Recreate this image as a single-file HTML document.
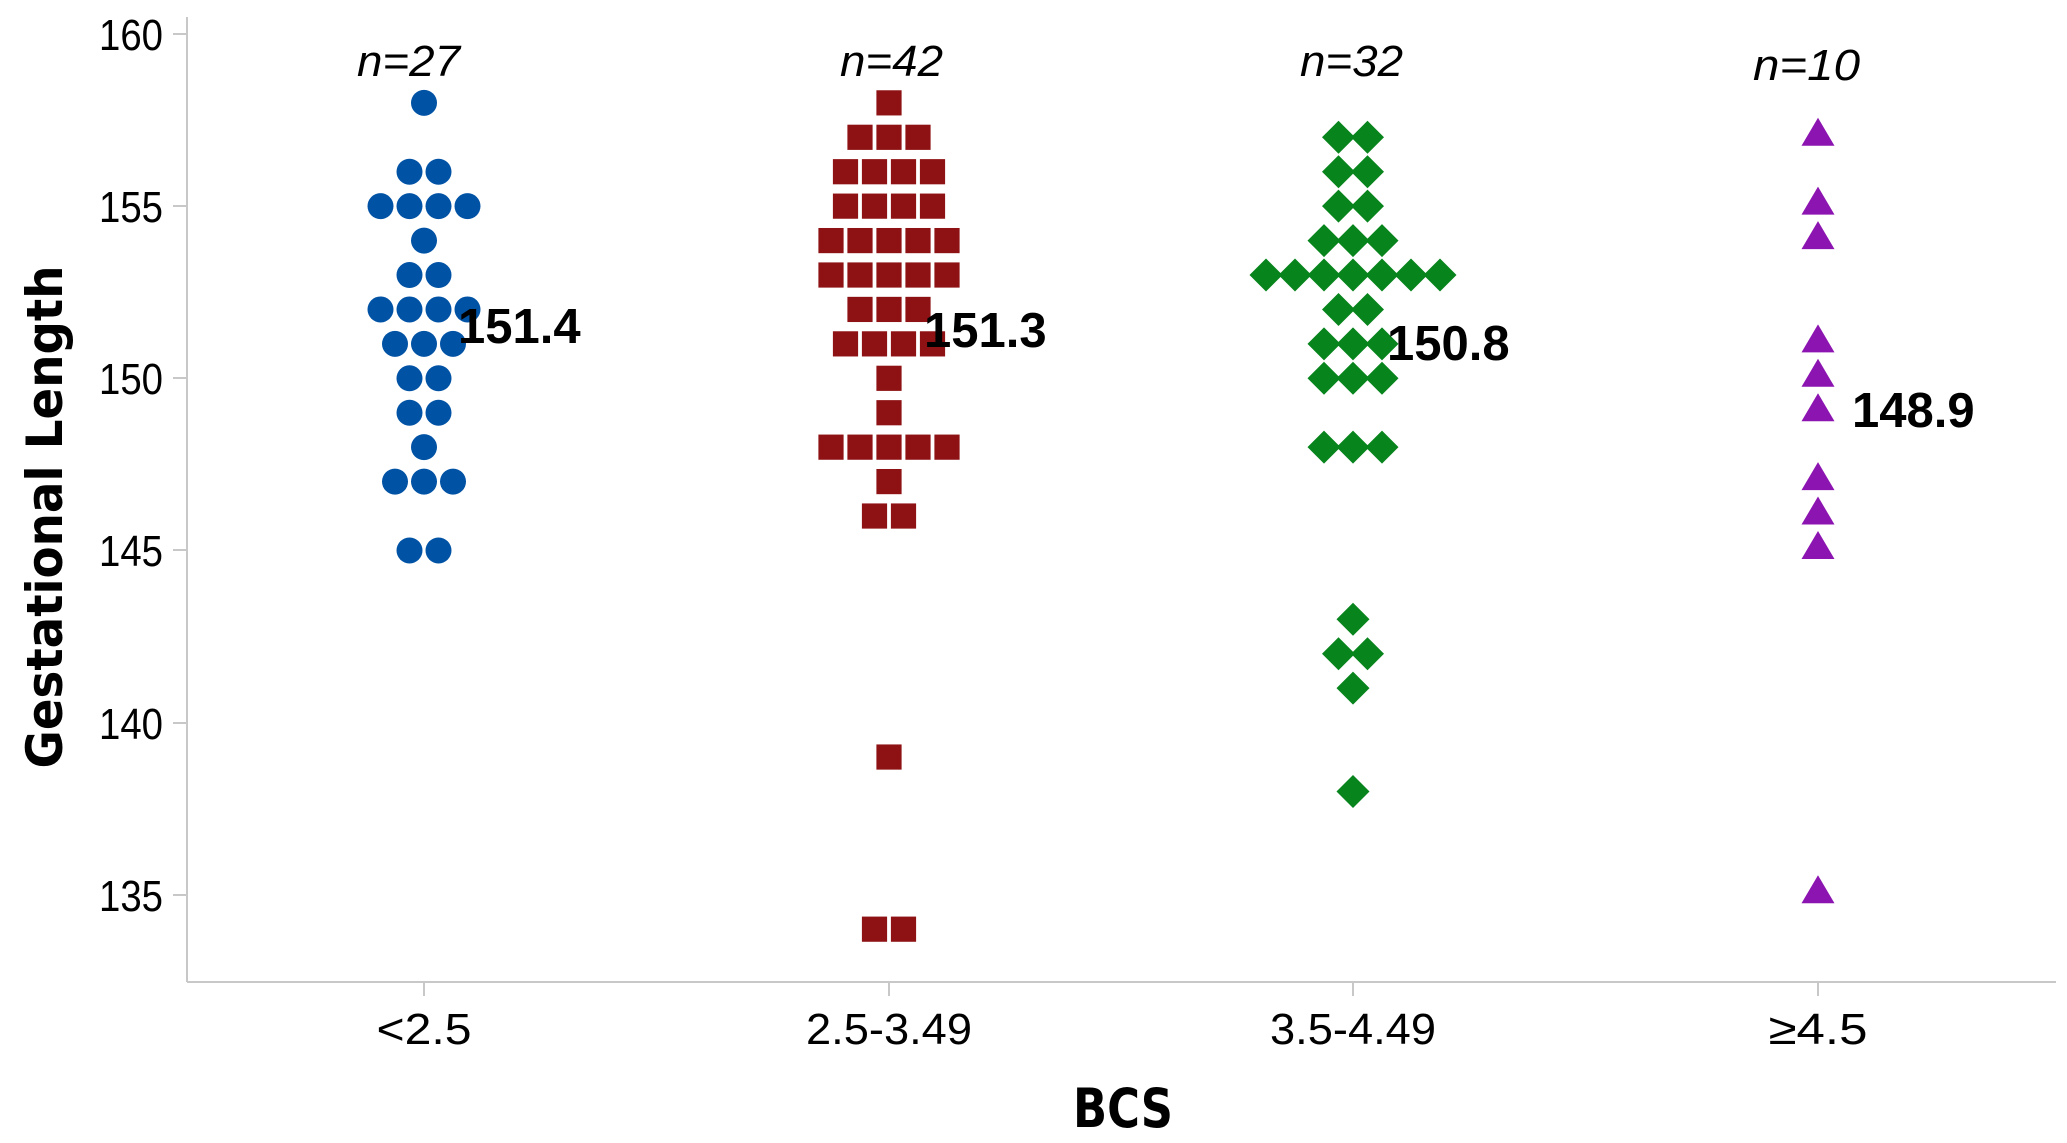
<!DOCTYPE html>
<html><head><meta charset="utf-8"><style>
html,body{margin:0;padding:0;background:#fff;}
svg{display:block;}
text{font-family:"Liberation Sans",sans-serif;fill:#000;}
</style></head><body>
<svg id="s" width="2067" height="1143" viewBox="0 0 2067 1143" xmlns="http://www.w3.org/2000/svg">
<g stroke="#c8c8c8" stroke-width="2" fill="none">
<line x1="187" y1="17" x2="187" y2="982"/>
<line x1="187" y1="982" x2="2056" y2="982"/>
<line x1="173" y1="34" x2="187" y2="34"/>
<line x1="173" y1="206" x2="187" y2="206"/>
<line x1="173" y1="378" x2="187" y2="378"/>
<line x1="173" y1="550" x2="187" y2="550"/>
<line x1="173" y1="723" x2="187" y2="723"/>
<line x1="173" y1="895" x2="187" y2="895"/>
<line x1="424" y1="982" x2="424" y2="996"/>
<line x1="889" y1="982" x2="889" y2="996"/>
<line x1="1353" y1="982" x2="1353" y2="996"/>
<line x1="1818" y1="982" x2="1818" y2="996"/>
</g>
<g font-size="44" text-anchor="end">
<text x="163" y="50" textLength="64" lengthAdjust="spacingAndGlyphs">160</text>
<text x="163" y="222" textLength="64" lengthAdjust="spacingAndGlyphs">155</text>
<text x="163" y="394" textLength="64" lengthAdjust="spacingAndGlyphs">150</text>
<text x="163" y="566" textLength="64" lengthAdjust="spacingAndGlyphs">145</text>
<text x="163" y="739" textLength="64" lengthAdjust="spacingAndGlyphs">140</text>
<text x="163" y="911" textLength="64" lengthAdjust="spacingAndGlyphs">135</text>
</g>
<g font-size="44" text-anchor="middle">
<text x="424" y="1044" textLength="95" lengthAdjust="spacingAndGlyphs">&lt;2.5</text>
<text x="889" y="1044" textLength="166" lengthAdjust="spacingAndGlyphs">2.5-3.49</text>
<text x="1353" y="1044" textLength="166" lengthAdjust="spacingAndGlyphs">3.5-4.49</text>
<text x="1818" y="1044" textLength="99" lengthAdjust="spacingAndGlyphs">≥4.5</text>
</g>
<text x="1123" y="1127" font-size="54" font-weight="bold" text-anchor="middle" style="font-family:'DejaVu Sans',sans-serif" textLength="100" lengthAdjust="spacingAndGlyphs">BCS</text>
<text transform="translate(62,517) rotate(-90)" font-size="50" font-weight="bold" text-anchor="middle" style="font-family:'DejaVu Sans',sans-serif" textLength="503" lengthAdjust="spacingAndGlyphs">Gestational  Length</text>
<g font-size="44" font-style="italic">
<text x="357" y="76" textLength="103" lengthAdjust="spacingAndGlyphs">n=27</text>
<text x="840" y="76" textLength="103" lengthAdjust="spacingAndGlyphs">n=42</text>
<text x="1300" y="76" textLength="103" lengthAdjust="spacingAndGlyphs">n=32</text>
<text x="1753" y="80" textLength="107" lengthAdjust="spacingAndGlyphs">n=10</text>
</g>
<g id="m"></g>
<g font-size="49" font-weight="bold">
<text x="458" y="343">151.4</text>
<text x="924" y="347">151.3</text>
<text x="1387" y="360">150.8</text>
<text x="1852" y="427">148.9</text>
</g>
</svg>
<script>
(function(){
var Y=function(v){return 34+(160-v)*34.43;};
var g=document.getElementById('m');var ns='http://www.w3.org/2000/svg';var h='';
function rows(cx,data,fn){for(var k in data){var n=data[k],v=parseFloat(k);for(var i=0;i<n;i++){var x=cx+(i-(n-1)/2)*29;h+=fn(x,Y(v));}}}
rows(424,{158:1,156:2,155:4,154:1,153:2,152:4,151:3,150:2,149:2,148:1,147:3,145:2},function(x,y){return '<circle cx="'+x+'" cy="'+y+'" r="13" fill="#0052a5"/>';});
rows(889,{158:1,157:3,156:4,155:4,154:5,153:5,152:3,151:4,150:1,149:1,148:5,147:1,146:2,139:1,134:2},function(x,y){return '<rect x="'+(x-13)+'" y="'+(y-13)+'" width="26" height="26" fill="#8e1214" stroke="#fff" stroke-width="0.8"/>';});
rows(1353,{157:2,156:2,155:2,154:3,153:7,152:2,151:3,150:3,148:3,143:1,142:2,141:1,138:1},function(x,y){return '<polygon points="'+(x-16.5)+','+y+' '+x+','+(y-16.5)+' '+(x+16.5)+','+y+' '+x+','+(y+16.5)+'" fill="#07841c"/>';});
[157,155,154,151,150,149,147,146,145,135].forEach(function(v){var x=1818,y=Y(v)-1;h+='<polygon points="'+(x-16.5)+','+(y+9.5)+' '+x+','+(y-18.5)+' '+(x+16.5)+','+(y+9.5)+'" fill="#8c14b0"/>';});
g.innerHTML=h;
})();
</script>
</body></html>
